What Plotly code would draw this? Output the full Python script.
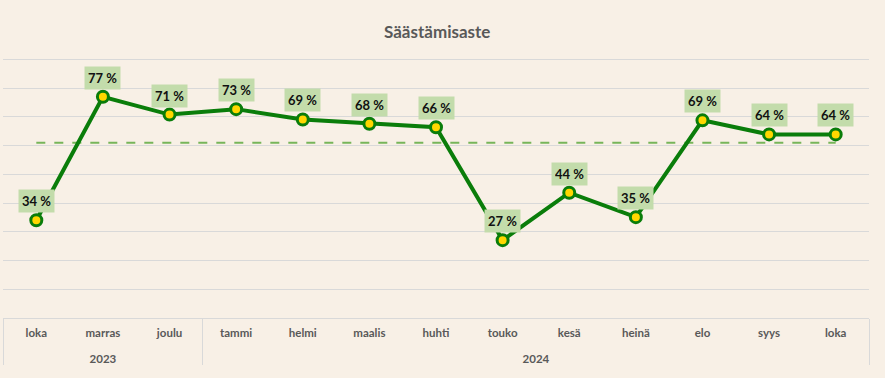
import plotly.graph_objects as go

years = ["2023", "2023", "2023", "2024", "2024", "2024", "2024", "2024", "2024", "2024", "2024", "2024", "2024"]
months = ["loka", "marras", "joulu", "tammi", "helmi", "maalis", "huhti", "touko", "kesä", "heinä", "elo", "syys", "loka"]
savings_rate = [34.0, 77.0, 70.8, 72.7, 69.1, 67.6, 66.4, 27.1, 43.6, 35.1, 68.8, 63.9, 63.9]
reference_level = [61.0] * 13
title_text = "Säästämisaste"

BG = "#F8F0E6"
GRID = "#D9D9D9"
FONT = "Lato"

# Plotly merges equal inner category names across groups; a zero-width space keeps
# the second "loka" separate. A blank second line makes room before the year row.
seen = {}
month_keys = []
for m in months:
    k = m + "\u200b" * seen.get(m, 0)
    seen[m] = seen.get(m, 0) + 1
    month_keys.append(k + "<br> ")

fig = go.Figure()
fig.add_trace(go.Scatter(
    x=[years, month_keys], y=reference_level, mode="lines",
    line=dict(color="#77B55A", width=2, dash="dash"),
    hoverinfo="skip", showlegend=False,
))
fig.add_trace(go.Scatter(
    x=[years, month_keys], y=savings_rate, mode="lines+markers",
    line=dict(color="#0A7D0A", width=4),
    marker=dict(size=11, color="#FFD700", line=dict(color="#0A7D0A", width=3)),
    showlegend=False,
))

for i, v in enumerate(savings_rate):
    fig.add_annotation(
        x=i, y=v, xref="x", yref="y",
        text=f"<b>{round(v)} %</b>", showarrow=False,
        yshift=19, bgcolor="#C3DCAB", borderpad=3, height=16,
        font=dict(family=FONT, size=13, color="#111111"),
    )

fig.update_layout(
    width=885, height=378,
    paper_bgcolor=BG, plot_bgcolor=BG,
    margin=dict(l=3, r=16, t=57.5, b=60, autoexpand=False),
    title=dict(text=f"<b>{title_text}</b>", x=0.494, xanchor="center", y=0.915, yanchor="middle",
               font=dict(family=FONT, size=17, color="#595959")),
    xaxis=dict(
        type="multicategory", range=[-0.5, len(months) - 0.5], autorange=False,
        showgrid=False, showline=True, linecolor=GRID, linewidth=1,
        showdividers=True, dividercolor=GRID, dividerwidth=1,
        tickfont=dict(family=FONT, size=11.5, color="#595959", weight="bold"),
        ticks="", zeroline=False, ticklabelstandoff=4, automargin=False,
    ),
    yaxis=dict(
        range=[0, 90.5], dtick=10, showticklabels=False, showgrid=True,
        gridcolor=GRID, gridwidth=1, zeroline=False, showline=False, ticks="",
    ),
    font=dict(family=FONT),
)

fig.write_html(
    "out.html",
    config={"displayModeBar": False},
    post_script="document.body.style.margin='0';document.body.style.overflow='hidden';"
                "document.body.style.background='#F8F0E6';",
)
